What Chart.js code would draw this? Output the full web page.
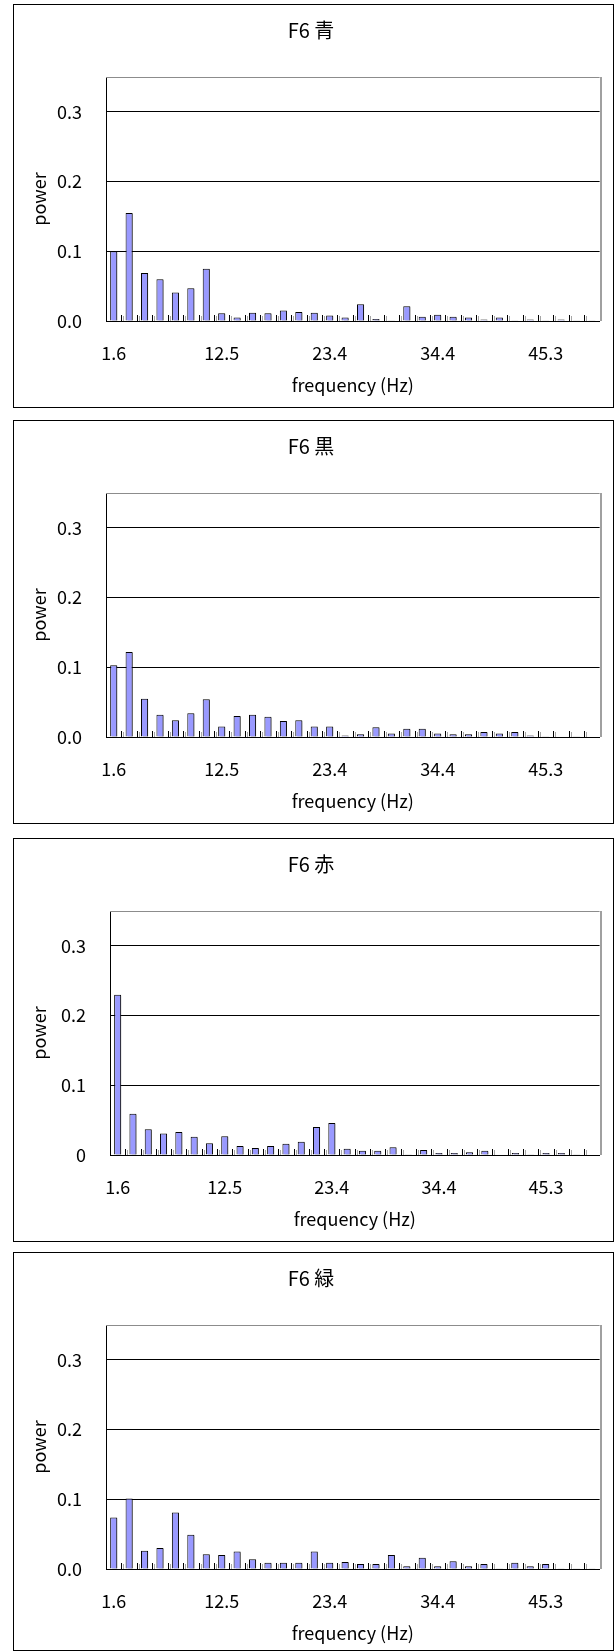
<!DOCTYPE html>
<html>
<head>
<meta charset="utf-8">
<title>F6 power spectra</title>
<script src="https://cdn.jsdelivr.net/npm/chart.js@4.4.1/dist/chart.umd.min.js"></script>
<style>
  body{ margin:0; background:#fff; width:616px; height:1651px; position:relative; overflow:hidden; }
  .panel{ position:absolute; left:13px; width:601px; height:404px; border:1px solid #000; box-sizing:border-box; background:#fff; overflow:hidden; }
  .panel canvas{ display:block; }
</style>
</head>
<body>

<div class="panel" style="top:4px"><canvas id="c-blue" width="599" height="402"></canvas></div>
<div class="panel" style="top:420px"><canvas id="c-black" width="599" height="402"></canvas></div>
<div class="panel" style="top:838px"><canvas id="c-red" width="599" height="402"></canvas></div>
<div class="panel" style="top:1252px;height:399px"><canvas id="c-green" width="599" height="402"></canvas></div>

<script>
// frequency bins (Hz)
var FREQ = ['1.6','3.1','4.7','6.3','7.8','9.4','10.9','12.5','14.1','15.6','17.2','18.8','20.3','21.9','23.4','25.0',
            '26.6','28.1','29.7','31.3','32.8','34.4','35.9','37.5','39.1','40.6','42.2','43.8','45.3','46.9','48.4','50.0'];
var SHOWN_FREQ = ['1.6','12.5','23.4','34.4','45.3'];

var Y_TICKS = [0, 0.1, 0.2, 0.3];
var Y_LABELS = ['0.0','0.1','0.2','0.3'];
var Y_LABELS_PLAIN = ['0','0.1','0.2','0.3'];

// power per bin
var BLUE  = [0.100,0.155,0.069,0.060,0.041,0.047,0.075,0.011,0.005,0.012,0.011,0.015,0.013,0.012,0.008,0.005,
             0.024,0.003,0.001,0.021,0.006,0.009,0.006,0.005,0.002,0.005,0.001,0.002,0.001,0.002,0.001,0.001];
var BLACK = [0.103,0.122,0.055,0.032,0.024,0.034,0.054,0.015,0.030,0.032,0.029,0.023,0.024,0.015,0.015,0.002,
             0.004,0.014,0.005,0.012,0.012,0.005,0.004,0.004,0.007,0.005,0.007,0.002,0.001,0,0.001,0];
var RED   = [0.230,0.059,0.037,0.031,0.033,0.026,0.017,0.027,0.013,0.010,0.013,0.016,0.019,0.040,0.046,0.009,
             0.006,0.006,0.011,0.001,0.007,0.003,0.003,0.004,0.006,0,0.003,0.001,0.003,0.003,0.001,0];
var GREEN = [0.074,0.101,0.026,0.030,0.081,0.049,0.021,0.020,0.025,0.014,0.009,0.009,0.009,0.025,0.009,0.010,
             0.007,0.007,0.020,0.004,0.016,0.004,0.011,0.004,0.007,0.001,0.009,0.004,0.007,0.001,0.001,0.001];

var FONT = "'Noto Sans CJK JP', 'Liberation Sans', sans-serif";

// excel-ish look: gray plot frame, small inside ticks between categories, bar shadow
var excelLook = {
  id: 'excelLook',
  beforeDatasetsDraw: function(chart){
    var ctx = chart.ctx;
    ctx.save();
    ctx.shadowColor = 'rgba(0,0,0,0.35)';
    ctx.shadowOffsetX = 2;
    ctx.shadowOffsetY = 1;
    ctx.shadowBlur = 0;
  },
  afterDatasetsDraw: function(chart){
    var ctx = chart.ctx;
    var a = chart.chartArea;
    var xs = chart.scales.x;
    ctx.strokeStyle = '#000';
    ctx.lineWidth = 1;
    ctx.beginPath();
    for(var i=0;i<FREQ.length-1;i++){
      var x = Math.round(xs.getPixelForValue(i + 0.5)) + 0.5;
      ctx.moveTo(x, a.bottom);
      ctx.lineTo(x, a.bottom - 6);
    }
    ctx.stroke();
    ctx.restore();

    ctx.save();
    ctx.strokeStyle = '#8c8c8c';
    ctx.lineWidth = 1;
    ctx.beginPath();
    ctx.moveTo(a.left, Math.round(a.top) + 0.5);
    ctx.lineTo(a.right, Math.round(a.top) + 0.5);
    ctx.stroke();
    ctx.strokeStyle = '#a0a0a0';
    ctx.lineWidth = 2;
    ctx.beginPath();
    ctx.moveTo(Math.round(a.right) + 1, a.top);
    ctx.lineTo(Math.round(a.right) + 1, a.bottom);
    ctx.stroke();
    ctx.restore();
  }
};

function makeChart(id, title, values, yLabels, axisWidth){
  var el = document.getElementById(id);
  if(!el) return;
  new Chart(el.getContext('2d'), {
    type: 'bar',
    data: {
      labels: FREQ,
      datasets: [{
        data: values,
        backgroundColor: '#9999ff',
        borderColor: '#000',
        borderWidth: 1,
        barPercentage: 0.46,
        categoryPercentage: 1
      }]
    },
    options: {
      responsive: false,
      animation: false,
      events: [],
      layout: { padding: { left: 0, right: 5, top: 0, bottom: 0 } },
      plugins: {
        legend: { display: false },
        tooltip: { enabled: false },
        title: {
          display: true, text: title, color: '#000',
          font: { family: FONT, size: 20, weight: 'normal' },
          padding: { top: 13, bottom: 35 }
        }
      },
      scales: {
        x: {
          grid: { display: false, drawTicks: false },
          border: { display: true, color: '#000', width: 1 },
          ticks: {
            color: '#000', autoSkip: false, maxRotation: 0, minRotation: 0, padding: 21,
            font: { family: FONT, size: 18 },
            callback: function(v, i){ return SHOWN_FREQ.indexOf(FREQ[i]) >= 0 ? FREQ[i] : ''; }
          },
          title: {
            display: true, text: 'frequency (Hz)', color: '#000',
            font: { family: FONT, size: 18 }, padding: { top: 0, bottom: 11 }
          },
          afterFit: function(s){ s.height = 86; }
        },
        y: {
          min: 0, max: 0.35,
          grid: { color: '#000', lineWidth: 1, drawTicks: false },
          border: { display: true, color: '#000', width: 1 },
          afterBuildTicks: function(s){ s.ticks = Y_TICKS.map(function(v){ return { value: v }; }); },
          ticks: {
            color: '#000', padding: 24,
            font: { family: FONT, size: 18 },
            callback: function(v, i){ return yLabels[i]; }
          },
          title: {
            display: true, text: 'power', color: '#000',
            font: { family: FONT, size: 18 }, padding: { top: 14, bottom: 0 }
          },
          afterFit: function(s){ s.width = axisWidth; }
        }
      }
    },
    plugins: [excelLook]
  });
}

window.addEventListener('load', function(){
  if(typeof Chart === 'undefined') return;
  Chart.defaults.font.family = FONT;
  Chart.defaults.color = '#000';
  makeChart('c-blue',  'F6 青', BLUE,  Y_LABELS, 92);
  makeChart('c-black', 'F6 黒', BLACK, Y_LABELS, 92);
  makeChart('c-red',   'F6 赤', RED,   Y_LABELS_PLAIN, 96);
  makeChart('c-green', 'F6 緑', GREEN, Y_LABELS, 92);
});
</script>
</body>
</html>
